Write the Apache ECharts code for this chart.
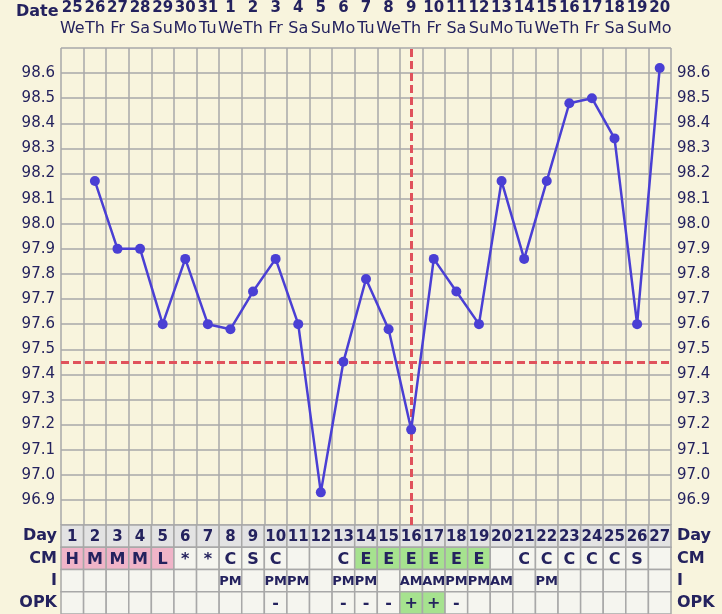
<!DOCTYPE html>
<html><head><meta charset="utf-8">
<script src="https://cdn.jsdelivr.net/npm/echarts@6/dist/echarts.min.js"></script>
<style>html,body{margin:0;padding:0;background:#f8f4dd;}#c{width:722px;height:614px;}</style>
</head><body><div id="c"></div>
<script>
// ---- data ----
const days = [1,2,3,4,5,6,7,8,9,10,11,12,13,14,15,16,17,18,19,20,21,22,23,24,25,26,27];
const dates = [25,26,27,28,29,30,31,1,2,3,4,5,6,7,8,9,10,11,12,13,14,15,16,17,18,19,20];
const weekdays = ['We','Th','Fr','Sa','Su','Mo','Tu','We','Th','Fr','Sa','Su','Mo','Tu','We','Th','Fr','Sa','Su','Mo','Tu','We','Th','Fr','Sa','Su','Mo'];
const temps = [null,98.17,97.90,97.90,97.60,97.86,97.60,97.58,97.73,97.86,97.60,96.93,97.45,97.78,97.58,97.18,97.86,97.73,97.60,98.17,97.86,98.17,98.48,98.50,98.34,97.60,98.62];
const cmRow = ['H','M','M','M','L','*','*','C','S','C','','','C','E','E','E','E','E','E','','C','C','C','C','C','S',''];
const iRow = ['','','','','','','','PM','','PM','PM','','PM','PM','','AM','AM','PM','PM','AM','','PM','','','','',''];
const opkRow = ['','','','','','','','','','-','','','-','-','-','+','+','-','','','','','','','','',''];
const coverline = 97.45;
const ovulationDay = 16;
const tempTicks = {min:96.8, max:98.7, step:0.1};
const rowNames = ['OPK','I','CM','Day'];

// ---- styles ----
const FONT = '"DejaVu Sans", Verdana, sans-serif';
const TXT = '#24225e';
const GRID = '#a8a8a8';
const PINK = '#f0b4c8', GREEN = '#a6e28f', PLAIN = '#f5f5ef', HEAD = '#e3e3e3';

function cellColor(row, v){
  if(row==='Day') return HEAD;
  if(row==='CM'){ if(v==='H'||v==='M'||v==='L') return PINK; if(v==='E') return GREEN; }
  if(row==='OPK' && v==='+') return GREEN;
  return PLAIN;
}
const tableData = [];
days.forEach((d,i)=>{
  tableData.push([i,3,String(d)]);
  tableData.push([i,2,cmRow[i]]);
  tableData.push([i,1,iRow[i]]);
  tableData.push([i,0,opkRow[i]]);
});

const chart = echarts.init(document.getElementById('c'), null, {renderer:'canvas'});
const yLab = {
  fontFamily:FONT, fontSize:15, color:TXT,
  formatter: v => (v < tempTicks.min+0.05 || v > tempTicks.max-0.05) ? '' : v.toFixed(1)
};
chart.setOption({
  backgroundColor:'#f8f4dd',
  animation:false,
  grid:[
    {left:61, right:51, top:48, bottom:89},
    {left:61, right:51, top:525, bottom:0}
  ],
  graphic:[{type:'text', left:16, top:4, style:{text:'Date', font:'bold 16px '+FONT, fill:TXT}}],
  xAxis:[
    {type:'category', gridIndex:0, data:days.map(String), boundaryGap:true,
     axisLine:{show:false}, axisTick:{show:false}, axisLabel:{show:false},
     splitLine:{show:true, interval:0, lineStyle:{color:GRID, width:1.5}}},
    {type:'category', gridIndex:0, position:'top', data:days.map(String), boundaryGap:true,
     axisLine:{show:false}, axisTick:{show:false},
     axisLabel:{interval:0, margin:8,
       formatter:(v,i)=>'{d|'+dates[i]+'}\n{w|'+weekdays[i]+'}',
       rich:{d:{fontFamily:FONT, fontWeight:'bold', fontSize:15, color:TXT, lineHeight:20},
             w:{fontFamily:FONT, fontSize:16, color:TXT, lineHeight:22}}}},
    {type:'category', gridIndex:1, data:days.map(String), boundaryGap:true,
     axisLine:{show:false}, axisTick:{show:false}, axisLabel:{show:false}, splitLine:{show:false}}
  ],
  yAxis:[
    {type:'value', gridIndex:0, min:tempTicks.min, max:tempTicks.max, interval:tempTicks.step,
     axisLine:{show:false}, axisTick:{show:false}, axisLabel:Object.assign({margin:6}, yLab),
     splitLine:{show:true, lineStyle:{color:GRID, width:1.5}}},
    {type:'value', gridIndex:0, position:'right', min:tempTicks.min, max:tempTicks.max, interval:tempTicks.step,
     axisLine:{show:false}, axisTick:{show:false}, axisLabel:Object.assign({margin:6}, yLab),
     splitLine:{show:false}},
    {type:'category', gridIndex:1, data:rowNames,
     axisLine:{show:false}, axisTick:{show:false},
     axisLabel:{margin:4, fontFamily:FONT, fontWeight:'bold', fontSize:16, color:TXT}},
    {type:'category', gridIndex:1, position:'right', data:rowNames,
     axisLine:{show:false}, axisTick:{show:false},
     axisLabel:{margin:6, fontFamily:FONT, fontWeight:'bold', fontSize:16, color:TXT}}
  ],
  series:[
    {type:'line', xAxisIndex:0, yAxisIndex:0, data:temps, z:5,
     symbol:'circle', symbolSize:10, lineStyle:{color:'#4a3fd4', width:2.5},
     itemStyle:{color:'#4a3fd4'},
     markLine:{silent:true, symbol:'none', label:{show:false},
       lineStyle:{color:'#e0525c', width:3, type:[8,4]},
       data:[{yAxis:coverline},{xAxis:String(ovulationDay)}]}},
    {type:'custom', xAxisIndex:2, yAxisIndex:2, data:tableData,
     renderItem:(params, api)=>{
       const x = api.value(0), y = api.value(1);
       const c = api.coord([x,y]); const s = api.size([1,1]);
       const txt = tableData[params.dataIndex][2];
       const row = rowNames[y];
       const fs = row==='I' ? 13 : (row==='Day' ? 15 : 16);
       return {type:'group', children:[
         {type:'rect', shape:{x:c[0]-s[0]/2, y:c[1]-s[1]/2, width:s[0], height:s[1]},
          style:{fill:cellColor(row, txt), stroke:GRID, lineWidth:1.5}},
         {type:'text', style:{text:txt, x:c[0], y:c[1]+1, align:'center', verticalAlign:'middle',
          font:'bold '+fs+'px '+FONT, fill:TXT}}
       ]};
     }}
  ]
});
</script></body></html>
